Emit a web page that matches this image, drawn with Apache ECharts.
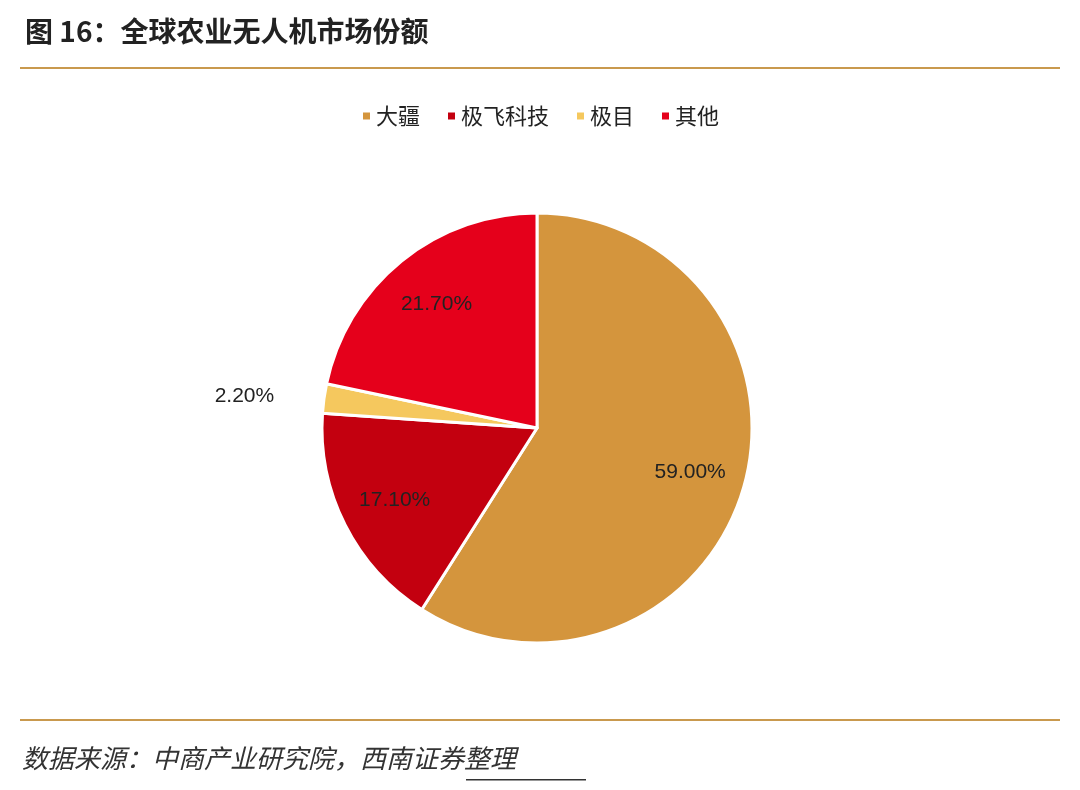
<!DOCTYPE html>
<html><head><meta charset="utf-8">
<script src="https://cdn.jsdelivr.net/npm/echarts@6/dist/echarts.min.js"></script>
<style>html,body{margin:0;background:#fff}#c{width:1080px;height:790px}</style></head>
<body><div id="c"></div>
<script>
const categories = ['大疆','极飞科技','极目','其他'];
const values = [59.0, 17.1, 2.2, 21.7];
const colors = ['#D4953D','#C3000F','#F5C85E','#E5001B'];
const chart = echarts.init(document.getElementById('c'));
const font = '"Noto Sans CJK SC", sans-serif';
const data = categories.map((n,i)=>({name:n,value:values[i],itemStyle:{color:colors[i]}}));
const labelData = categories.map((n,i)=>({name:n,value:values[i],
  label: i===2 ? {position:'outside', distance:6} : {position:'inside'},
  labelLine:{show:false}}));
chart.setOption({
  animation:false,
  title:{text:'图 16：全球农业无人机市场份额',left:20,top:12,textStyle:{fontFamily:font,fontSize:28,fontWeight:'bold',color:'#222'}},
  legend:{top:100,left:'center',itemWidth:9,itemHeight:9,icon:'rect',itemGap:26,
    textStyle:{fontFamily:font,fontSize:22,color:'#222'},data:categories},
  graphic:[
    {type:'rect',shape:{x:20,y:67,width:1040,height:2},style:{fill:'#C9994E'}},
    {type:'rect',shape:{x:20,y:719,width:1040,height:2},style:{fill:'#C9994E'}},
    {type:'text',left:22,top:745,style:{text:'数据来源：中商产业研究院，西南证券整理',font:'italic 26px '+font,fill:'#333'}},
    {type:'rect',shape:{x:466,y:779,width:120,height:1.5},style:{fill:'#333'}}
  ],
  series:[
    {type:'pie',center:[537,428],radius:[0,215],startAngle:90,clockwise:true,
     data:data,label:{show:false},labelLine:{show:false},
     itemStyle:{borderColor:'#fff',borderWidth:3},silent:true},
    {type:'pie',center:[537,428],radius:[98,215],startAngle:90,clockwise:true,
     data:labelData,itemStyle:{color:'transparent'},silent:true,legendHoverLink:false,
     label:{show:true,formatter:p=>p.value.toFixed(2)+'%',fontFamily:'"Liberation Sans", Arial, sans-serif',fontSize:21,color:'#222'}}
  ]
});
</script></body></html>
